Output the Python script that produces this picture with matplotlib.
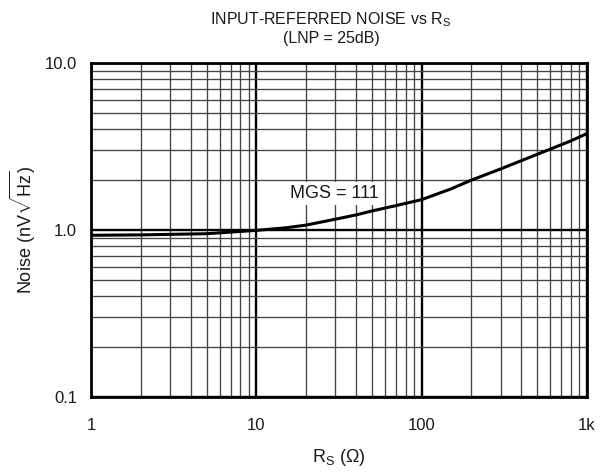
import matplotlib
matplotlib.use("Agg")
import matplotlib.pyplot as plt
from matplotlib.ticker import FixedLocator, NullFormatter, LogLocator

plt.rcParams['font.family'] = ['Liberation Sans', 'DejaVu Sans']
plt.rcParams['mathtext.fontset'] = 'custom'
plt.rcParams['mathtext.rm'] = 'Liberation Sans'
plt.rcParams['mathtext.it'] = 'Liberation Sans:italic'

# Data
rs = [1, 2, 5, 10, 15, 20, 30, 40, 50, 70, 100, 150, 200, 300, 400, 600, 800, 1000]
noise = [0.93, 0.935, 0.95, 0.995, 1.03, 1.07, 1.16, 1.23, 1.30, 1.40, 1.52,
         1.76, 1.99, 2.32, 2.60, 3.05, 3.42, 3.78]
x_ticks = [1, 10, 100, 1000]
x_labels = ["1", "10", "100", "1k"]
y_ticks = [0.1, 1.0, 10.0]
y_labels = ["0.1", "1.0", "10.0"]
curve_label = "MGS = 111"

fig = plt.figure(figsize=(6.05, 4.75), dpi=100)
ax = fig.add_axes([91/605, 1-397/475, (587-91)/605, (397-63)/475])
ax.set_xscale('log')
ax.set_yscale('log')
ax.set_xlim(1, 1000)
ax.set_ylim(0.1, 10)

ax.plot(rs, noise, color='black', lw=2.2, zorder=3, solid_joinstyle='round')

ax.xaxis.set_major_locator(FixedLocator(x_ticks))
ax.yaxis.set_major_locator(FixedLocator(y_ticks))
ax.set_xticklabels(x_labels)
ax.set_yticklabels(y_labels)
ax.xaxis.set_minor_locator(LogLocator(base=10, subs=range(2, 10)))
ax.yaxis.set_minor_locator(LogLocator(base=10, subs=range(2, 10)))
ax.xaxis.set_minor_formatter(NullFormatter())
ax.yaxis.set_minor_formatter(NullFormatter())

ax.grid(True, which='major', color='black', lw=1.7, zorder=1)
ax.grid(True, which='minor', color='#444444', lw=0.95, zorder=1)
ax.tick_params(which='both', length=0, labelcolor='#1a1a1a')
ax.tick_params(axis='x', pad=15, labelsize=12)
ax.tick_params(axis='y', pad=10, labelsize=12)
for s in ax.spines.values():
    s.set_linewidth(2)
    s.set_zorder(4)

ax.text(29.5, 1.66, curve_label, fontsize=13, ha='center', va='center', color='#1a1a1a',
        bbox=dict(facecolor='white', edgecolor='none', pad=2.2), zorder=2.6)

fig.text(331/605, 1-20/475, r"INPUT-REFERRED NOISE vs R$_\mathrm{S}$", ha='center', va='center', fontsize=11.5, color='#1a1a1a')
fig.text(331/605, 1-39/475, "(LNP = 25dB)", ha='center', va='center', fontsize=11.5, color='#1a1a1a')
fig.text(339/605, 1-457/475, r"R$_\mathrm{S}$ ($\Omega$)", ha='center', va='center', fontsize=13, color='#1a1a1a')
fig.text(23/605, 1-230/475, r"Noise (nV$\sqrt{\mathrm{Hz}}$)", ha='center', va='center', fontsize=13, rotation=90, color='#1a1a1a')

fig.savefig("out.png", dpi=100)
